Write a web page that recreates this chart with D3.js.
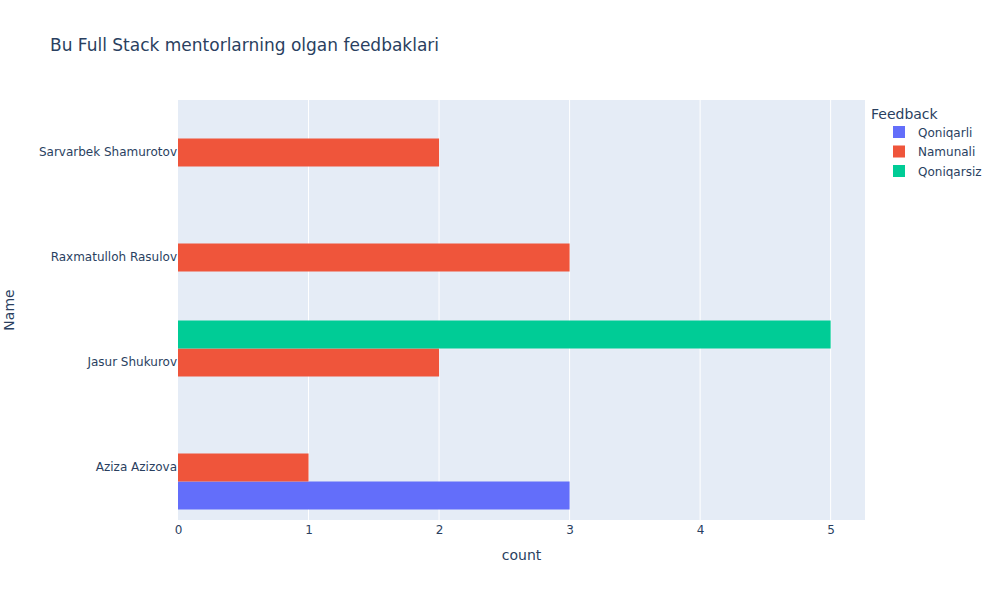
<!DOCTYPE html>
<html><head><meta charset="utf-8">
<script src="https://cdn.jsdelivr.net/npm/d3@7"></script>
<style>body{margin:0;background:#fff;} svg text{font-family:"DejaVu Sans",Verdana,sans-serif;}</style>
</head><body><svg id="c" width="1000" height="600"></svg>
<script>
const names = ["Aziza Azizova","Jasur Shukurov","Raxmatulloh Rasulov","Sarvarbek Shamurotov"];
const seriesNames = ["Qoniqarli","Namunali","Qoniqarsiz"];
const seriesColors = ["#636efa","#EF553B","#00cc96"];
const qoniqarli = [3,0,0,0];
const namunali = [1,2,3,2];
const qoniqarsiz = [0,5,0,0];
const xTicks = [0,1,2,3,4,5];
const seriesValues = [qoniqarli, namunali, qoniqarsiz];

const svg = d3.select("#c");
const L=178, R=865, T=100, B=520;
svg.append("rect").attr("x",L).attr("y",T).attr("width",R-L).attr("height",B-T).attr("fill","#E5ECF6");
const x = d3.scaleLinear().domain([0,5/0.95]).range([L,R]);
const y = d3.scaleBand().domain(names.slice().reverse()).range([T,B]).paddingInner(0.2).paddingOuter(0.1);
const sub = d3.scaleBand().domain([2,1,0]).range([0,y.bandwidth()]);

svg.append("g").selectAll("line").data(xTicks.slice(1)).join("line")
  .attr("x1",d=>x(d)).attr("x2",d=>x(d)).attr("y1",T).attr("y2",B)
  .attr("stroke","#fff").attr("stroke-width",1);

seriesValues.forEach((vals,si)=>{
  svg.append("g").selectAll("rect").data(names.map((n,i)=>({n,v:vals[i]})).filter(d=>d.v>0)).join("rect")
    .attr("x",x(0)).attr("width",d=>x(d.v)-x(0))
    .attr("y",d=>y(d.n)+sub(si)).attr("height",sub.bandwidth())
    .attr("fill",seriesColors[si]);
});

const xa = svg.append("g").attr("transform",`translate(0,${B})`).call(d3.axisBottom(x).tickValues(xTicks).tickSize(0).tickPadding(5).tickFormat(d3.format("d")));
xa.select(".domain").remove();
xa.selectAll("text").attr("font-size",12).attr("fill","#2a3f5f").attr("font-family",null);
const ya = svg.append("g").attr("transform",`translate(${L},0)`).call(d3.axisLeft(y).tickSize(0).tickPadding(1));
ya.select(".domain").remove();
ya.selectAll("text").attr("font-size",12).attr("fill","#2a3f5f").attr("font-family",null);

svg.append("text").attr("x",(L+R)/2).attr("y",560).attr("text-anchor","middle").attr("font-size",14).attr("fill","#2a3f5f").text("count");
svg.append("text").attr("transform",`translate(14,${(T+B)/2}) rotate(-90)`).attr("text-anchor","middle").attr("font-size",14).attr("fill","#2a3f5f").text("Name");
svg.append("text").attr("x",50).attr("y",51).attr("font-size",17).attr("fill","#2a3f5f").text("Bu Full Stack mentorlarning olgan feedbaklari");

const lg = svg.append("g");
lg.append("text").attr("x",871).attr("y",119).attr("font-size",14).attr("fill","#2a3f5f").text("Feedback");
seriesNames.forEach((s,i)=>{
  const yy = 132 + i*19.5;
  lg.append("rect").attr("x",893).attr("y",yy-6).attr("width",12).attr("height",12).attr("fill",seriesColors[i]);
  lg.append("text").attr("x",918).attr("y",yy+4.5).attr("font-size",12).attr("fill","#2a3f5f").text(s);
});
</script></body></html>
